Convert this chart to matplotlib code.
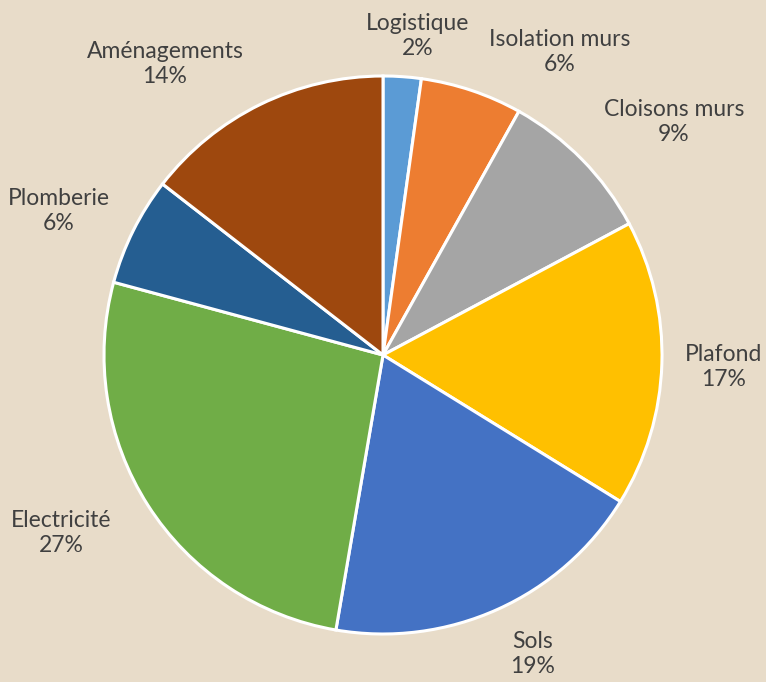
import matplotlib
matplotlib.use("Agg")
import matplotlib.pyplot as plt

categories = ["Logistique", "Isolation murs", "Cloisons murs", "Plafond",
              "Sols", "Electricité", "Plomberie", "Aménagements"]
values = [2.2, 5.9, 9.1, 16.6, 18.9, 26.5, 6.3, 14.5]
pct_labels = ["2%", "6%", "9%", "17%", "19%", "27%", "6%", "14%"]
colors = ["#5B9BD5", "#ED7D31", "#A5A5A5", "#FFC000",
          "#4472C4", "#70AD47", "#255E91", "#9E480E"]

# label block centres in pixel layout (x from left, y from top)
label_px = [(418, 36), (560, 52), (674, 122), (724, 367),
            (533, 654), (61, 533), (59, 211), (165, 64)]

W, H = 766, 682
cx, cy, R = 383, 355, 279
bg = "#e8dcc9"

fig = plt.figure(figsize=(W / 100, H / 100), dpi=100, facecolor=bg)
ax = fig.add_axes([0, 0, 1, 1])
ax.set_facecolor(bg)

wedges, _ = ax.pie(values, colors=colors, startangle=90, counterclock=False,
                   center=(cx, H - cy), radius=R, frame=True,
                   wedgeprops=dict(edgecolor="white", linewidth=2.2))
ax.set_xlim(0, W)
ax.set_ylim(0, H)
ax.set_aspect("equal")
ax.axis("off")

for cat, p, (lx, ly) in zip(categories, pct_labels, label_px):
    ax.text(lx, H - ly, f"{cat}\n{p}", ha="center", va="center",
            fontsize=16.5, family="Lato", color="#404040", linespacing=1.2)

fig.savefig("out.png", dpi=100, facecolor=bg)
